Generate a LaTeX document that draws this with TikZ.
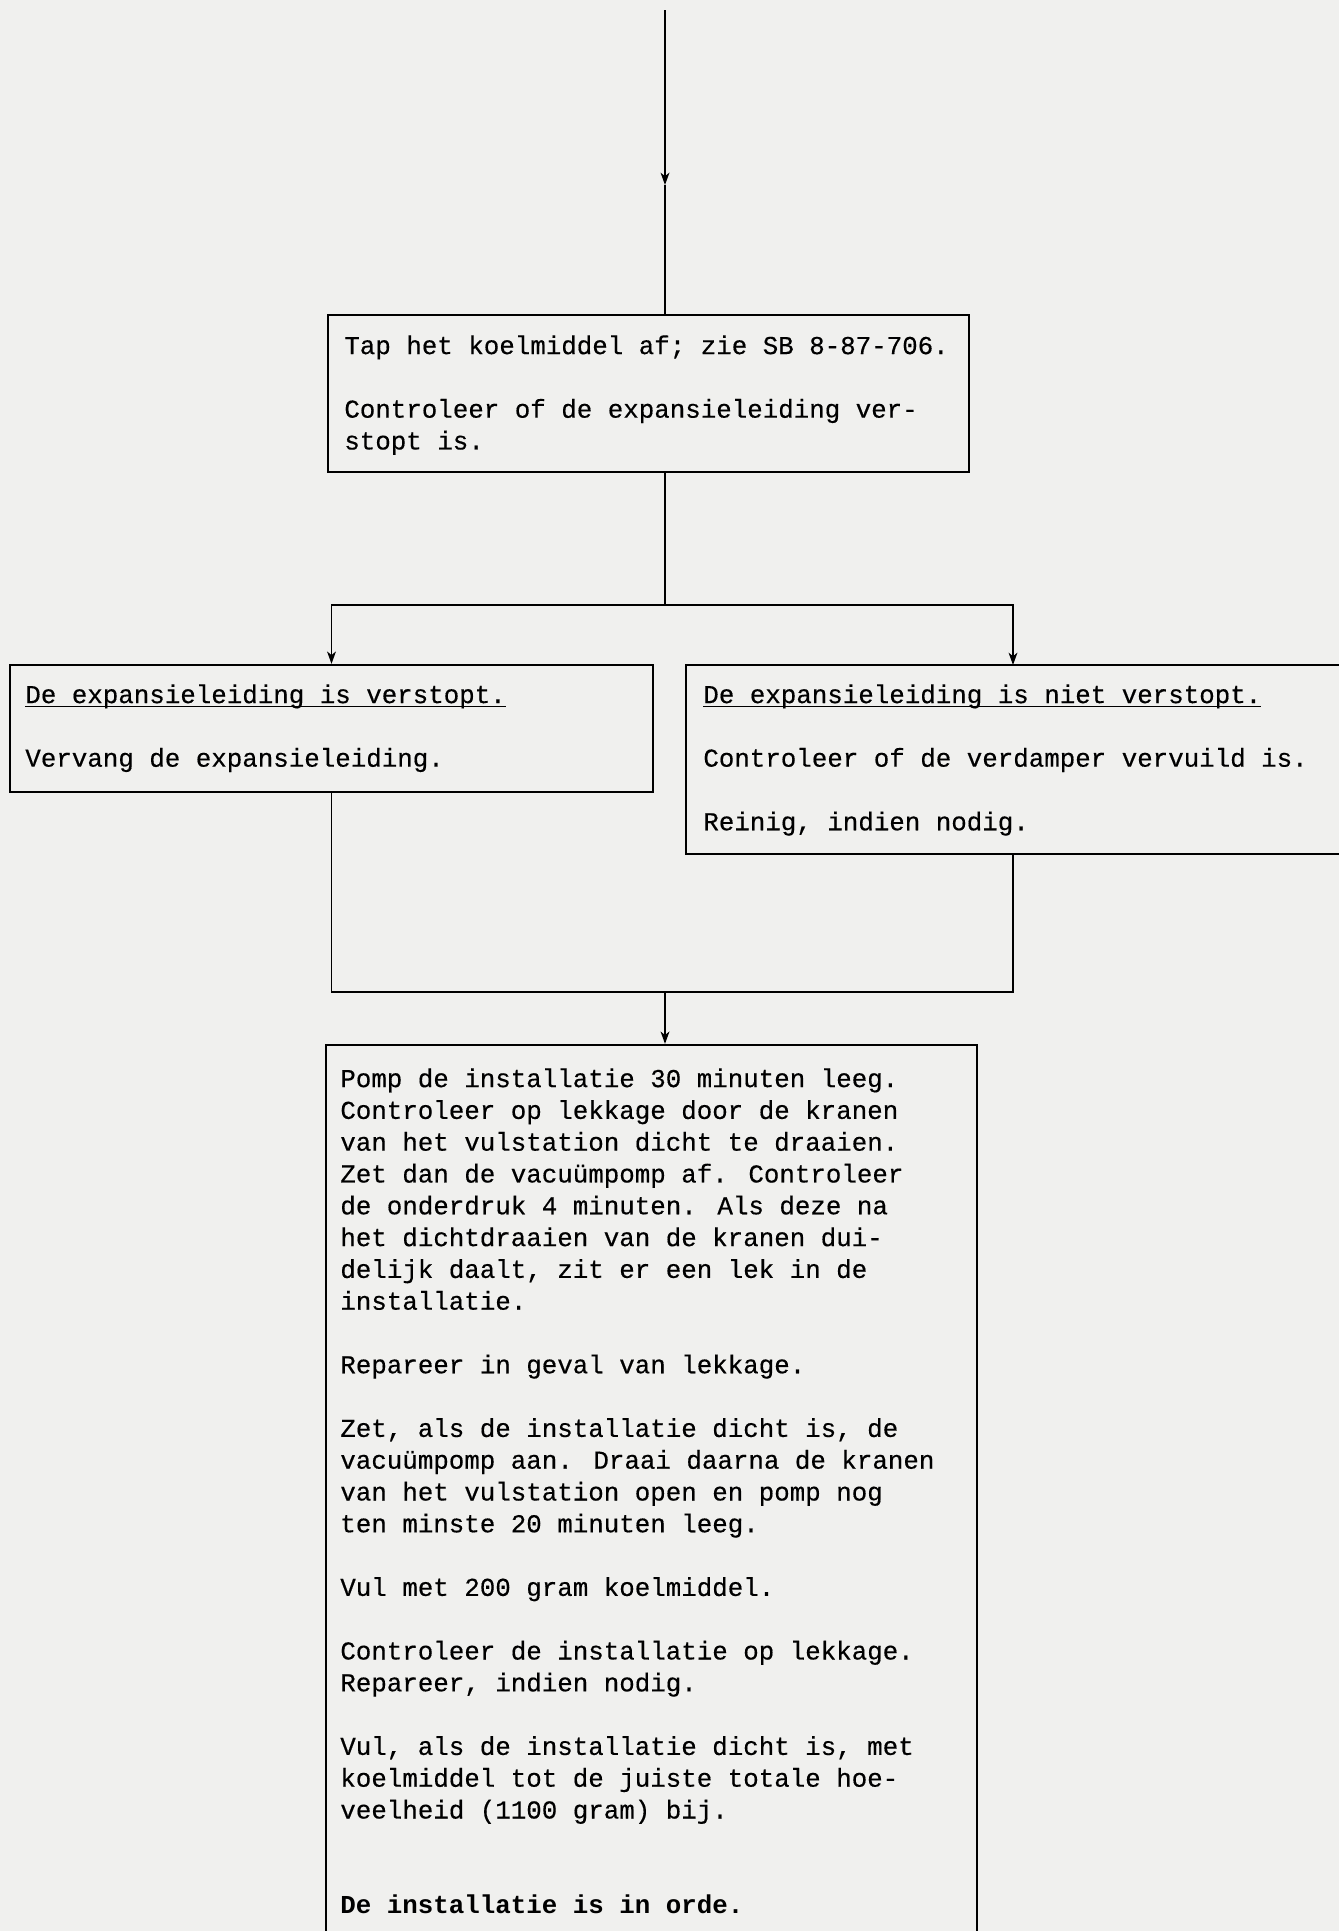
\documentclass[tikz,border=0pt]{standalone}
\usepackage{fontspec}
\setmainfont{Liberation Mono}[UprightFeatures={FakeBold=0.4}]
\usetikzlibrary{arrows.meta,fit}
\definecolor{papier}{RGB}{240,240,238}
\newcommand\onderlijn[1]{\setbox0\hbox{#1}\rlap{\rule[-2.5pt]{\wd0}{1pt}}\box0}
\begin{document}
\begin{tikzpicture}[x=0.02cm, y=-0.02cm,
    kader/.style = {draw, line width=1.3pt, inner sep=0pt},
    tekst/.style = {anchor=north west, inner sep=0pt, align=left,
                    font=\fontsize{14.7}{18.1}\selectfont},
    lijn/.style  = {line width=1pt},
    pijl/.style  = {lijn, -{Stealth[length=7pt, width=5pt, inset=2pt]}}]
  \fill[papier] (0,0) rectangle (1339,1931);
  \useasboundingbox (0,0) rectangle (1339,1931);

  \node[kader, fit={(328,315) (969,472)}] (stap1) {};
  \node[kader, fit={(10,665) (653,792)}] (links) {};
  \node[kader, fit={(686,665) (1380,854)}] (rechts) {};
  \node[kader, fit={(326,1045) (977,1960)}] (stap3) {};

  \node[tekst] (tekst1) at (344,335)
    {Tap het koelmiddel af; zie SB 8-87-706.\\[18.1pt]
     Controleer of de expansieleiding ver-\\
     stopt is.};
  \node[tekst] (tekstlinks) at (25,684)
    {\onderlijn{De expansieleiding is verstopt.}\\[18.1pt]
     Vervang de expansieleiding.};
  \node[tekst] (tekstrechts) at (703,684)
    {\onderlijn{De expansieleiding is niet verstopt.}\\[18.1pt]
     Controleer of de verdamper vervuild is.\\[18.1pt]
     Reinig, indien nodig.};
  \node[tekst] (tekst3) at (340,1068)
    {Pomp de installatie 30 minuten leeg.\\
     Controleer op lekkage door de kranen\\
     van het vulstation dicht te draaien.\\
     Zet dan de vacuümpomp af. Controleer\\
     de onderdruk 4 minuten. Als deze na\\
     het dichtdraaien van de kranen dui-\\
     delijk daalt, zit er een lek in de\\
     installatie.\\[18.1pt]
     Repareer in geval van lekkage.\\[18.1pt]
     Zet, als de installatie dicht is, de\\
     vacuümpomp aan. Draai daarna de kranen\\
     van het vulstation open en pomp nog\\
     ten minste 20 minuten leeg.\\[18.1pt]
     Vul met 200 gram koelmiddel.\\[18.1pt]
     Controleer de installatie op lekkage.\\
     Repareer, indien nodig.\\[18.1pt]
     Vul, als de installatie dicht is, met\\
     koelmiddel tot de juiste totale hoe-\\
     veelheid (1100 gram) bij.\\[36.2pt]
     \textbf{De installatie is in orde.}};

  \coordinate (start) at (665,10);
  \coordinate (pijlpunt) at (665,185);
  \coordinate (splits) at (665,605);
  \coordinate (rechtsboven) at (1013,665);
  \coordinate (samen) at (665,992);

  \draw[pijl] (start) -- (pijlpunt);
  \draw[lijn] (pijlpunt) -- (start |- stap1.north);
  \draw[lijn] (start |- stap1.south) -- (splits);
  \draw[pijl] (splits) -| (links.north);
  \draw[pijl] (splits) -| (rechtsboven);
  \draw[lijn] (links.south) |- (samen);
  \draw[lijn] (rechtsboven |- rechts.south) |- (samen);
  \draw[pijl] (samen) -- (samen |- stap3.north);
\end{tikzpicture}
\end{document}
